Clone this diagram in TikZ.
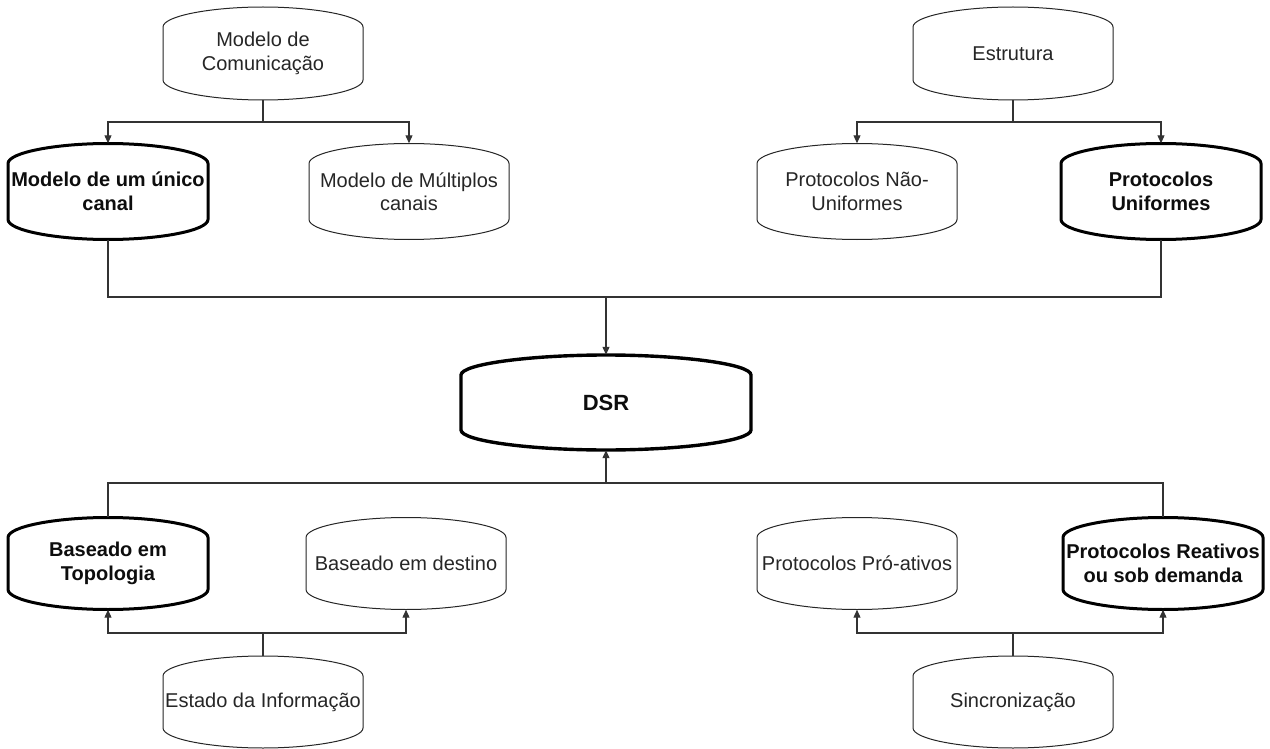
\documentclass[tikz,border=0pt]{standalone}
\usepackage{fontspec}
\setmainfont{Liberation Sans}
\usetikzlibrary{arrows.meta,calc}

% Barrel outline: straight sides, convex top and bottom joined smoothly.
% #1 style, #2/#3 centre, #4 half width, #5 half height
\newcommand{\barrel}[5]{%
  \draw[#1, shift={(#2,#3)}]
    (-#4,#5-20) -- (-#4,-#5+20)
    .. controls (-#4,-#5+9) and (-#4*0.52,-#5) .. (0,-#5)
    .. controls (#4*0.52,-#5) and (#4,-#5+9) .. (#4,-#5+20)
    -- (#4,#5-20)
    .. controls (#4,#5-9) and (#4*0.52,#5) .. (0,#5)
    .. controls (-#4*0.52,#5) and (-#4,#5-9) .. (-#4,#5-20)
    -- cycle;}

% Labelled box: #1 outline style, #2 text style, #3 name, #4/#5 centre, #6/#7 half sizes, #8 text
\newcommand{\bnode}[8]{%
  \barrel{#1}{#4}{#5}{#6}{#7}
  \node[#2, minimum width={#6*2pt}, minimum height={#7*2pt}] (#3) at (#4,#5) {#8};}

\begin{document}
\begin{tikzpicture}[x=1pt,y=-1pt,
  thinbox/.style={draw=black!85, line width=1pt, fill=white},
  boldbox/.style={draw=black, line width=3pt, fill=white},
  dsrbox/.style={draw=black, line width=3.4pt, fill=white},
  plain/.style={shape=rectangle, inner sep=0pt, align=center, text=black!85,
    font=\fontsize{20}{23.5}\selectfont},
  strong/.style={plain, text=black!95, font=\fontsize{20}{23.5}\selectfont\bfseries},
  big/.style={plain, text=black!95, font=\fontsize{22}{25}\selectfont\bfseries},
  link/.style={draw=black!80, line width=1.1pt},
  arr/.style={link, -{Triangle[length=8pt,width=7pt]}}]

\useasboundingbox (0,0) rectangle (1270,749);

% bus levels
\coordinate (busA) at (0,122);
\coordinate (busB) at (0,297);
\coordinate (busC) at (0,483);
\coordinate (busD) at (0,633);

% top classifications
\bnode{thinbox}{plain}{comm}{263}{53.5}{100}{46.5}{Modelo de\\Comunicação}
\bnode{thinbox}{plain}{estr}{1013}{53.5}{100}{46.5}{Estrutura}

\bnode{boldbox}{strong}{um}{108}{191.5}{100}{48}{Modelo de um único\\canal}
\bnode{thinbox}{plain}{mult}{409}{191.5}{100}{48}{Modelo de Múltiplos\\canais}
\bnode{thinbox}{plain}{naouni}{857}{191.5}{100}{48}{Protocolos Não-\\Uniformes}
\bnode{boldbox}{strong}{uni}{1161}{191.5}{100}{48}{Protocolos\\Uniformes}

% protocol
\bnode{dsrbox}{big}{dsr}{606}{402.5}{145}{47.5}{DSR}

% bottom classifications
\bnode{boldbox}{strong}{topo}{108}{563.5}{100}{46}{Baseado em\\Topologia}
\bnode{thinbox}{plain}{dest}{406}{563.5}{100}{46}{Baseado em destino}
\bnode{thinbox}{plain}{proat}{857}{563.5}{100}{46}{Protocolos Pró-ativos}
\bnode{boldbox}{strong}{reat}{1163}{563.5}{100}{46}{Protocolos Reativos\\ou sob demanda}

\bnode{thinbox}{plain}{estado}{263}{702}{100}{46}{Estado da Informação}
\bnode{thinbox}{plain}{sinc}{1013}{702}{100}{46}{Sincronização}

% top trees
\draw[arr] (comm.south) |- (busA -| um.north) -- (um.north);
\draw[arr] (comm.south) |- (busA -| mult.north) -- (mult.north);
\draw[arr] (estr.south) |- (busA -| naouni.north) -- (naouni.north);
\draw[arr] (estr.south) |- (busA -| uni.north) -- (uni.north);

% chosen options into DSR
\draw[link] (um.south) |- (busB -| uni.south) -- (uni.south);
\draw[arr] (busB -| dsr.north) -- (dsr.north);

\draw[link] (topo.north) |- (busC -| reat.north) -- (reat.north);
\draw[arr] (busC -| dsr.south) -- (dsr.south);

% bottom trees
\draw[arr] (estado.north) |- (busD -| topo.south) -- (topo.south);
\draw[arr] (estado.north) |- (busD -| dest.south) -- (dest.south);
\draw[arr] (sinc.north) |- (busD -| proat.south) -- (proat.south);
\draw[arr] (sinc.north) |- (busD -| reat.south) -- (reat.south);

\end{tikzpicture}
\end{document}
